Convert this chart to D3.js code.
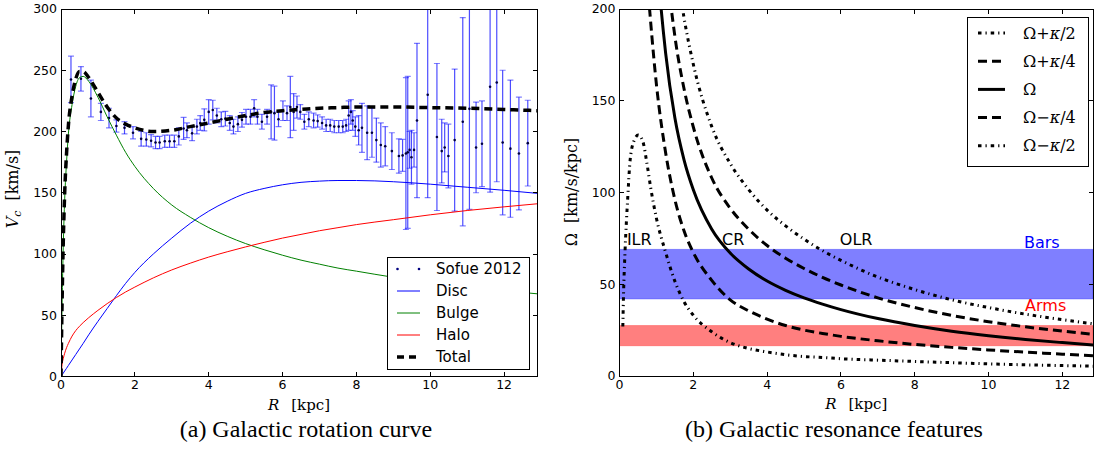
<!DOCTYPE html>
<html>
<head>
<meta charset="utf-8">
<script src="https://cdn.jsdelivr.net/npm/d3@7"></script>
<style>
  body { margin: 0; background: #fff; }
</style>
</head>
<body>
<svg id="fig" width="1097" height="454"></svg>
<script>
// (a) model curves, sampled on one radius grid [kpc] -> V [km/s]
var curveR = [0, 0.03, 0.06, 0.1, 0.15, 0.2, 0.3, 0.4, 0.5, 0.6, 0.75, 1, 1.25, 1.5, 1.75, 2, 2.5, 3, 3.5, 4, 4.5, 5, 5.5, 6, 6.5, 7, 7.5, 8, 9, 10, 11, 12, 12.9];
var discV  = [0, 1.3, 2.7, 4.5, 6.7, 9, 13.5, 18, 22.5, 27, 34, 45, 55.5, 66, 76, 85, 100, 113, 125, 135, 143, 149.5, 153.5, 156.5, 158.5, 159.5, 160, 160, 159, 157, 154.5, 152, 149.5];
var bulgeV = [0, 60, 105, 145, 175, 198, 222, 237, 244, 245, 241, 228, 212, 197, 183, 171.5, 153.5, 140, 130, 121.5, 114.5, 108.5, 103.5, 99, 95, 91.7, 88.5, 86, 81, 76.7, 73, 70, 67.5];
var haloV  = [0, 10, 14.5, 19, 23.5, 27, 33, 37.5, 41, 44, 48, 54, 59.5, 64.5, 69, 73, 80.5, 87, 92.5, 97.5, 101.8, 105.8, 109.5, 113, 116, 119, 121.5, 124, 128, 132, 135.5, 138.5, 141];
var totalV = [0, 62, 108, 150, 182, 205, 229, 243, 249, 249, 244, 232, 220, 211, 206, 203, 200, 201, 204, 207, 210, 213, 215.5, 217, 218, 219, 219.5, 220, 220, 219.5, 219, 218, 217];

// (a) Sofue 2012 observed points
var sofueR = [0.27, 0.54, 0.81, 1.08, 1.30, 1.50, 1.72, 1.95, 2.17, 2.31, 2.44, 2.56, 2.67, 2.81, 2.94, 3.07, 3.19, 3.32, 3.41, 3.55,
              3.68, 3.77, 3.88, 4.00, 4.11, 4.22, 4.34, 4.45, 4.57, 4.67, 4.79, 4.90, 5.01, 5.13, 5.23, 5.32, 5.44, 5.58, 5.69, 5.78,
              5.89, 6.01, 6.12, 6.21, 6.30, 6.39, 6.48, 6.59, 6.71, 6.84, 6.95, 7.07, 7.18, 7.29, 7.40, 7.52, 7.63, 7.72, 7.79, 7.85,
              7.90, 7.97, 8.06, 8.15, 8.29, 8.42, 8.54, 8.66, 8.78, 8.96, 9.15, 9.25, 9.34, 9.39, 9.44, 9.49, 9.56, 9.64, 9.93, 10.18,
              10.31, 10.39, 10.49, 10.66, 10.88, 11.06, 11.24, 11.40, 11.62, 11.80, 11.96, 12.17, 12.40, 12.64];
var sofueV = [242.5, 243, 227, 216, 211, 204.5, 203, 199, 194, 193.5, 192.5, 191, 191, 192, 192, 192, 196, 202.5, 201, 198.5,
              204, 207, 209.5, 216, 217.5, 213, 210, 210.5, 207, 204, 206, 209.5, 212, 212, 219, 212, 208, 212, 216, 215,
              210, 217, 215, 220, 216, 220, 216, 208, 210, 209, 208.5, 207, 205, 205, 204, 204, 204, 205, 213, 216,
              209, 204, 201, 203, 199, 199, 193, 189, 188, 184, 180, 180.5, 182, 183, 185, 179, 185, 209, 230, 195.5,
              184, 187, 180, 193, 208, 218.5, 187, 190, 236.5, 240, 191, 186, 182, 190.5];
var sofueErr = [19, 10, 15, 7, 8, 5, 5, 5, 6, 5.5, 5, 5, 5, 5, 5, 5, 7, 9, 6, 6,
                6, 6, 9, 10, 8, 6, 6, 6, 6, 6, 6, 6, 6, 6, 7, 6, 6, 6, 22, 22,
                6, 8, 6, 25, 15, 9, 6, 6, 6, 6, 5, 5, 5, 5, 5, 5, 5, 5, 12, 10,
                8, 8, 12, 20, 22, 20, 18, 18, 16, 15, 14, 13, 62, 62, 15, 22, 14, 63, 84, 60,
                26, 20, 26, 58, 85, 82, 37, 35, 86, 81, 59, 56, 46, 35];

// (b) frequencies [km/s/kpc]
var resR          = [0.75, 1, 1.25, 1.5, 1.75, 2, 2.5, 3, 3.5, 4, 4.5, 5, 5.5, 6, 7, 8, 9, 10, 11, 12, 12.9];
var omegaV        = [325, 232, 176, 140.7, 117.7, 101.5, 80, 67, 58.3, 51.75, 46.7, 42.6, 39.2, 36.2, 31.3, 27.5, 24.4, 21.95, 19.9, 18.2, 16.8];
var omegaPlusK4   = [434, 305, 230.3, 185.2, 156.4, 135.7, 107.9, 91.4, 80, 71.1, 64.2, 58.6, 53.75, 49.6, 42.6, 37.3, 33, 29.6, 26.8, 24.45, 22.6];
var omegaPlusK2   = [543, 378, 284.6, 229.7, 195.1, 169.9, 135.9, 115.8, 101.6, 90.4, 81.8, 74.6, 68.3, 63, 53.95, 47.1, 41.55, 37.3, 33.7, 30.7, 28.3];
var omegaMinusK4  = [216, 159, 121.7, 96.2, 79, 67.3, 52.1, 41.5, 35.5, 31, 27.5, 25, 23.2, 21.6, 19.2, 17.2, 15.6, 14.2, 13, 11.9, 11];
var ilrR = [0.09, 0.11, 0.15, 0.22, 0.29, 0.4, 0.51, 0.63, 0.75, 0.85, 1, 1.25, 1.5, 1.75, 2, 2.5, 3, 3.5, 4, 4.5, 5, 5.5, 6, 7, 8, 9, 10, 11, 12, 12.9];
var omegaMinusK2 = [27, 45, 68, 96, 118, 128.5, 131.3, 128, 115, 102, 86, 67.4, 51.7, 40.4, 33.1, 24.1, 18.2, 15, 13.1, 11.6, 10.6, 10.1, 9.4, 8.65, 7.9, 7.25, 6.6, 6.1, 5.7, 5.3];

var barsBand = [42, 69];
var armsBand = [16.5, 27.5];

var rTicks = [0, 2, 4, 6, 8, 10, 12];
var vTicks = [0, 50, 100, 150, 200, 250, 300];
var omegaTicks = [0, 50, 100, 150, 200];

var sans = "'DejaVu Sans', sans-serif";
var serif = "'DejaVu Serif', serif";
var times = "'Liberation Serif', 'Times New Roman', serif";

var svg = d3.select('#fig');

function zip(xs, ys){
    return xs.map(function(x, i){ return [x, ys[i]]; });
}

// frame with inward ticks on all four sides, matplotlib classic look
function drawFrame(g, x, y, xt, yt){
    var x0 = x.range()[0], x1 = x.range()[1], y0 = y.range()[1], y1 = y.range()[0];
    var tl = 4.5;
    var ticks = g.append('g')
        .attr('stroke', '#000')
        .attr('stroke-width', 1)
        .attr('shape-rendering', 'crispEdges');
    xt.forEach(function(t){
        ticks.append('line').attr('x1', x(t)).attr('x2', x(t)).attr('y1', y1).attr('y2', y1 - tl);
        ticks.append('line').attr('x1', x(t)).attr('x2', x(t)).attr('y1', y0).attr('y2', y0 + tl);
    });
    yt.forEach(function(t){
        ticks.append('line').attr('x1', x0).attr('x2', x0 + tl).attr('y1', y(t)).attr('y2', y(t));
        ticks.append('line').attr('x1', x1).attr('x2', x1 - tl).attr('y1', y(t)).attr('y2', y(t));
    });
    g.append('rect')
        .attr('x', x0).attr('y', y0)
        .attr('width', x1 - x0).attr('height', y1 - y0)
        .attr('fill', 'none')
        .attr('stroke', '#000')
        .attr('stroke-width', 1)
        .attr('shape-rendering', 'crispEdges');

    g.selectAll('text.xt').data(xt).enter().append('text')
        .attr('class', 'xt')
        .attr('x', function(d){ return x(d); })
        .attr('y', y1 + 12.5)
        .attr('text-anchor', 'middle')
        .style('font-family', sans).style('font-size', '12.5px')
        .text(function(d){ return d; });
    g.selectAll('text.yt').data(yt).enter().append('text')
        .attr('class', 'yt')
        .attr('x', x0 - 4)
        .attr('y', function(d){ return y(d); })
        .attr('dy', '0.35em')
        .attr('text-anchor', 'end')
        .style('font-family', sans).style('font-size', '12.5px')
        .text(function(d){ return d; });

    // R [kpc]
    var xl = g.append('text')
        .attr('x', (x0 + x1) / 2)
        .attr('y', y1 + 33)
        .attr('text-anchor', 'middle')
        .style('font-family', serif).style('font-size', '15px');
    xl.append('tspan').style('font-style', 'italic').text('R');
    xl.append('tspan').attr('dx', 12).text('[kpc]');
}

function addClip(id, x, y){
    svg.append('clipPath').attr('id', id)
        .append('rect')
        .attr('x', x.range()[0]).attr('y', y.range()[1])
        .attr('width', x.range()[1] - x.range()[0])
        .attr('height', y.range()[0] - y.range()[1]);
}

// ---------------- (a) rotation curve ----------------
var xa = d3.scaleLinear().domain([0, 12.89]).range([61, 537]);
var ya = d3.scaleLinear().domain([0, 300]).range([376.5, 9]);
addClip('clipA', xa, ya);

var lineA = d3.line()
    .x(function(d){ return xa(d[0]); })
    .y(function(d){ return ya(d[1]); })
    .curve(d3.curveMonotoneX);

var ga = svg.append('g');
var plotA = ga.append('g').attr('clip-path', 'url(#clipA)');

var sofue = sofueR.map(function(r, i){ return {r: r, v: sofueV[i], e: sofueErr[i]}; });
var bars = plotA.append('g')
    .attr('stroke', '#0000ff')
    .attr('stroke-opacity', 0.7)
    .attr('stroke-width', 1.2);
bars.selectAll('line.eb').data(sofue).enter().append('line')
    .attr('class', 'eb')
    .attr('x1', function(d){ return xa(d.r); }).attr('x2', function(d){ return xa(d.r); })
    .attr('y1', function(d){ return ya(d.v - d.e); }).attr('y2', function(d){ return ya(d.v + d.e); });
[-1, 1].forEach(function(s){
    bars.selectAll('line.cap' + (s + 1)).data(sofue).enter().append('line')
        .attr('class', 'cap' + (s + 1))
        .attr('stroke-opacity', 0.5)
        .attr('x1', function(d){ return xa(d.r) - 3; }).attr('x2', function(d){ return xa(d.r) + 3; })
        .attr('y1', function(d){ return ya(d.v + s * d.e); }).attr('y2', function(d){ return ya(d.v + s * d.e); });
});
plotA.selectAll('circle.pt').data(sofue).enter().append('circle')
    .attr('class', 'pt')
    .attr('cx', function(d){ return xa(d.r); })
    .attr('cy', function(d){ return ya(d.v); })
    .attr('r', 1.3)
    .attr('fill', '#000040');

var modelCurves = [
    {name: 'Disc',  v: discV,  color: '#0000ff', width: 1, dash: null},
    {name: 'Bulge', v: bulgeV, color: '#008000', width: 1, dash: null},
    {name: 'Halo',  v: haloV,  color: '#ff0000', width: 1, dash: null},
    {name: 'Total', v: totalV, color: '#000000', width: 3.5, dash: '8,5'}
];
modelCurves.forEach(function(c){
    plotA.append('path')
        .datum(zip(curveR, c.v))
        .attr('d', lineA)
        .attr('fill', 'none')
        .attr('stroke', c.color)
        .attr('stroke-width', c.width)
        .attr('stroke-dasharray', c.dash);
});

drawFrame(ga, xa, ya, rTicks, vTicks);

var yla = ga.append('text')
    .attr('transform', 'translate(18,189) rotate(-90)')
    .attr('text-anchor', 'middle')
    .style('font-family', serif).style('font-size', '16px');
yla.append('tspan').style('font-style', 'italic').text('V');
yla.append('tspan').style('font-style', 'italic').style('font-size', '11px').attr('dy', 3).text('c');
yla.append('tspan').attr('dx', 10).attr('dy', -3).text('[km/s]');

// legend (a)
var legA = ga.append('g');
legA.append('rect')
    .attr('x', 387).attr('y', 257).attr('width', 142).attr('height', 112)
    .attr('fill', '#fff').attr('stroke', '#000').attr('stroke-width', 1)
    .attr('shape-rendering', 'crispEdges');
var legARows = [{name: 'Sofue 2012', dots: true}].concat(modelCurves);
legARows.forEach(function(c, i){
    var cy = 269 + i * 22;
    if(c.dots){
        [397.5, 419].forEach(function(px){
            legA.append('circle').attr('cx', px).attr('cy', cy).attr('r', 1.3).attr('fill', '#000080');
        });
    }
    else{
        legA.append('line')
            .attr('x1', 397).attr('x2', 420).attr('y1', cy).attr('y2', cy)
            .attr('stroke', c.color).attr('stroke-width', c.width)
            .attr('stroke-dasharray', c.dash ? '7,5' : null);
    }
    legA.append('text')
        .attr('x', 436).attr('y', cy).attr('dy', '0.35em')
        .style('font-family', sans).style('font-size', '15px')
        .text(c.name);
});

// ---------------- (b) resonances ----------------
var xb = d3.scaleLinear().domain([0, 12.83]).range([619.5, 1093]);
var yb = d3.scaleLinear().domain([0, 200]).range([376, 9]);
addClip('clipB', xb, yb);

var lineB = d3.line()
    .x(function(d){ return xb(d[0]); })
    .y(function(d){ return yb(d[1]); })
    .curve(d3.curveMonotoneX);

var gb = svg.append('g');
var plotB = gb.append('g').attr('clip-path', 'url(#clipB)');

[{band: barsBand, color: '#0000ff'}, {band: armsBand, color: '#ff0000'}].forEach(function(b){
    plotB.append('rect')
        .attr('x', xb(0)).attr('width', xb(12.83) - xb(0))
        .attr('y', yb(b.band[1])).attr('height', yb(b.band[0]) - yb(b.band[1]))
        .attr('fill', b.color).attr('fill-opacity', 0.5)
        .attr('stroke', b.color).attr('stroke-opacity', 0.3).attr('stroke-width', 1);
});

var dashK4 = '9,5';
var dashK2 = '3.5,4,1.2,4';
var resCurves = [
    {label: ['Ω+', 'κ', '/2'], r: resR, v: omegaPlusK2, width: 3, dash: dashK2},
    {label: ['Ω+', 'κ', '/4'], r: resR, v: omegaPlusK4, width: 3, dash: dashK4},
    {label: ['Ω', '', ''],     r: resR, v: omegaV,      width: 3, dash: null},
    {label: ['Ω−', 'κ', '/4'], r: resR, v: omegaMinusK4, width: 3, dash: dashK4},
    {label: ['Ω−', 'κ', '/2'], r: ilrR, v: omegaMinusK2, width: 3, dash: dashK2}
];
resCurves.forEach(function(c){
    plotB.append('path')
        .datum(zip(c.r, c.v))
        .attr('d', lineB)
        .attr('fill', 'none')
        .attr('stroke', '#000')
        .attr('stroke-width', c.width)
        .attr('stroke-dasharray', c.dash);
});

var resLabels = [
    {text: 'ILR',  r: 0.2,   o: 71.4, color: '#000'},
    {text: 'CR',   r: 2.78,  o: 71.4, color: '#000'},
    {text: 'OLR',  r: 5.97,  o: 71.4, color: '#000'},
    {text: 'Bars', r: 10.96, o: 69.8, color: '#0000ff'},
    {text: 'Arms', r: 10.99, o: 35.4, color: '#ff0000'}
];
resLabels.forEach(function(l){
    gb.append('text')
        .attr('x', xb(l.r)).attr('y', yb(l.o))
        .attr('fill', l.color)
        .style('font-family', sans).style('font-size', '16px')
        .text(l.text);
});

drawFrame(gb, xb, yb, rTicks, omegaTicks);

var ylb = gb.append('text')
    .attr('transform', 'translate(577,192) rotate(-90)')
    .attr('text-anchor', 'middle')
    .style('font-family', serif).style('font-size', '16px');
ylb.append('tspan').text('Ω');
ylb.append('tspan').attr('dx', 10).text('[km/s/kpc]');

// legend (b)
var legB = gb.append('g');
legB.append('rect')
    .attr('x', 967).attr('y', 17).attr('width', 121).attr('height', 149)
    .attr('fill', '#fff').attr('stroke', '#000').attr('stroke-width', 1)
    .attr('shape-rendering', 'crispEdges');
resCurves.forEach(function(c, i){
    var cy = 33 + i * 28.2;
    legB.append('line')
        .attr('x1', 978).attr('x2', 1005).attr('y1', cy).attr('y2', cy)
        .attr('stroke', '#000').attr('stroke-width', c.width)
        .attr('stroke-dasharray', c.dash);
    var t = legB.append('text')
        .attr('x', 1023).attr('y', cy).attr('dy', '0.35em')
        .style('font-family', serif).style('font-size', '16px');
    t.append('tspan').text(c.label[0]);
    t.append('tspan').style('font-style', 'italic').text(c.label[1]);
    t.append('tspan').text(c.label[2]);
});

// captions
[{text: '(a) Galactic rotation curve', x: 306}, {text: '(b) Galactic resonance features', x: 834}].forEach(function(c){
    svg.append('text')
        .attr('x', c.x).attr('y', 437)
        .attr('text-anchor', 'middle')
        .style('font-family', times).style('font-size', '24px')
        .text(c.text);
});
</script>
</body>
</html>
